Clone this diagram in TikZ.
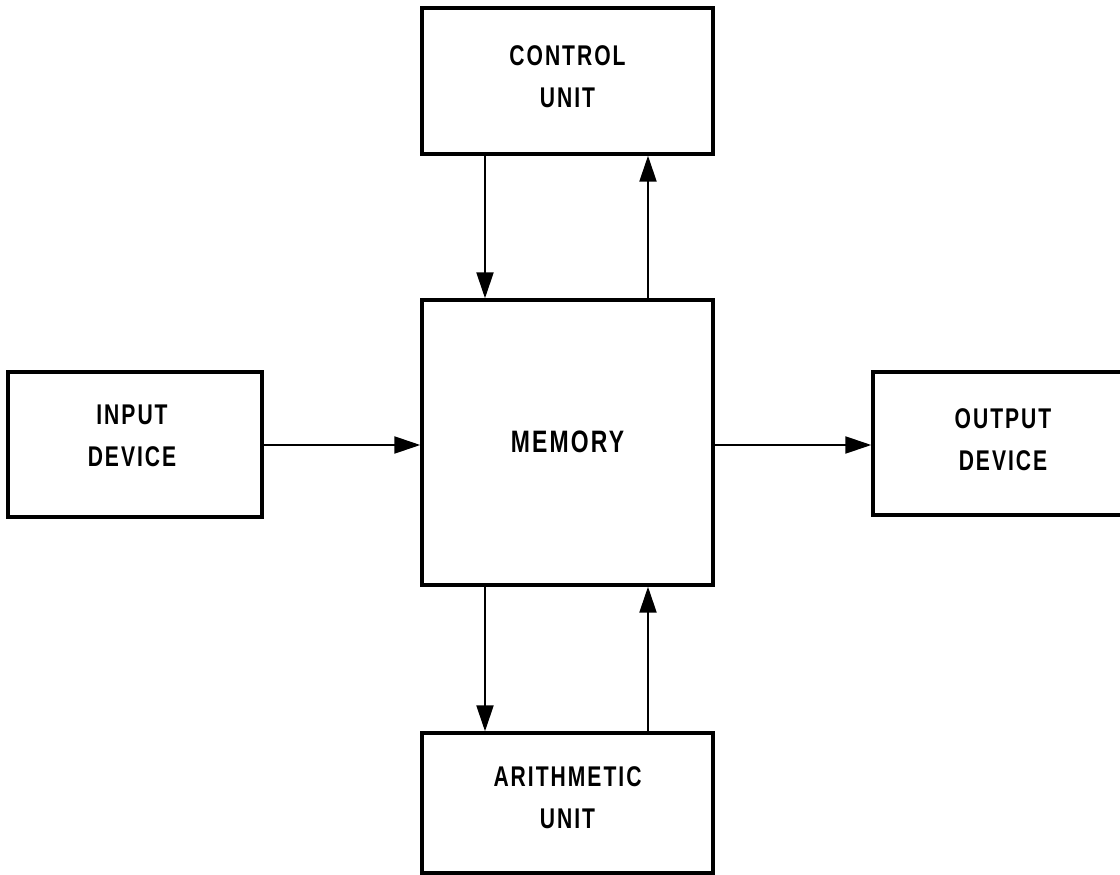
\documentclass[tikz,border=0pt]{standalone}
\usepackage{fontspec}
\newfontfamily\blockfont[FakeStretch=0.74,LetterSpace=7]{Liberation Sans Bold}
\usetikzlibrary{arrows.meta}
\begin{document}
\begin{tikzpicture}[x=1pt,y=-1pt,
  unitbox/.style={draw,line width=3.4pt,rectangle,inner sep=0pt},
  unittext/.style={inner sep=0pt,font=\blockfont\fontsize{28.5}{42}\selectfont,align=center},
  flow/.style={line width=2.2pt,-{Triangle[length=26pt,width=17pt]}}]
\useasboundingbox (0,0) rectangle (1120,875);
% blocks of the machine
\node[unitbox,minimum width=291pt,minimum height=146pt] (ctrl) at (567.5,81) {};
\node[unitbox,minimum width=291pt,minimum height=285pt] (mem) at (567.5,442.5) {};
\node[unitbox,minimum width=254pt,minimum height=145pt] (in) at (135,444.5) {};
\node[unitbox,minimum width=260pt,minimum height=143pt] (out) at (1003,443.5) {};
\node[unitbox,minimum width=291pt,minimum height=140pt] (alu) at (567.5,803) {};
% block names, set a little above centre
\node[unittext] (ctrl-t) at (567.5,77) {CONTROL\\UNIT};
\node[unittext,font=\blockfont\fontsize{31}{40}\selectfont] (mem-t) at (567.5,442) {MEMORY};
\node[unittext] (in-t) at (132,436) {INPUT\\DEVICE};
\node[unittext] (out-t) at (1003,440) {OUTPUT\\DEVICE};
\node[unittext] (alu-t) at (567.5,798) {ARITHMETIC\\UNIT};
% data and control paths
\draw[flow] (ctrl.south -| 485,0) -- (mem.north -| 485,0);
\draw[flow] (mem.north -| 648,0) -- (ctrl.south -| 648,0);
\draw[flow] (mem.south -| 485,0) -- (alu.north -| 485,0);
\draw[flow] (alu.north -| 648,0) -- (mem.south -| 648,0);
\draw[flow] (in.east |- 0,445) -- (mem.west |- 0,445);
\draw[flow] (mem.east |- 0,445) -- (out.west |- 0,445);
\end{tikzpicture}
\end{document}
